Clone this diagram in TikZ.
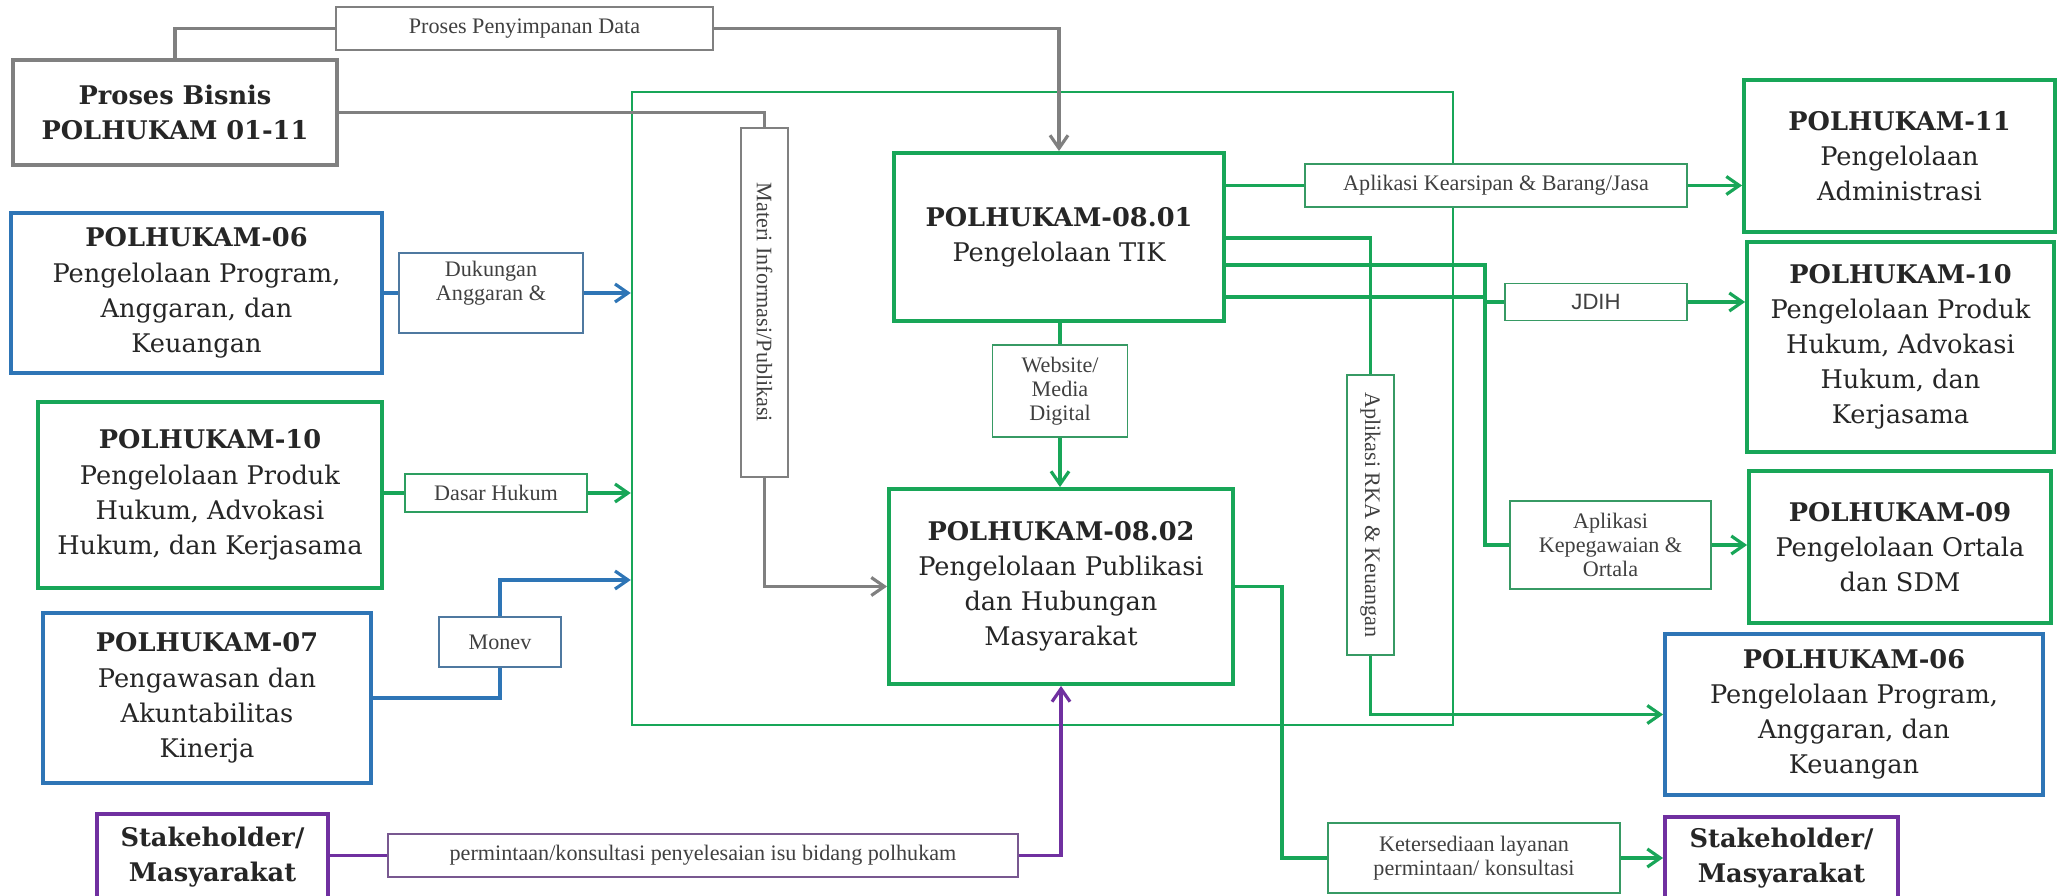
\documentclass[tikz,border=0pt]{standalone}
\usepackage{fontspec}
\setmainfont{DejaVu Serif}
\newfontfamily\labelfont{Liberation Serif}
\newfontfamily\jdihfont{Liberation Sans}
\usetikzlibrary{arrows.meta}
\definecolor{hijau}{RGB}{24,166,88}
\definecolor{biru}{RGB}{46,117,182}
\definecolor{ungu}{RGB}{112,48,160}
\definecolor{abu}{RGB}{128,128,128}
\colorlet{tinta}{black!85}
\tikzset{
  unit/.style={draw, line width=1.1pt, fill=white, align=center, inner sep=1pt, text=tinta, font=\fontsize{7.3}{10}\selectfont},
  ket/.style={draw, line width=0.5pt, fill=white, align=center, inner sep=1pt, text=black!75, font=\labelfont\fontsize{6.3}{6.8}\selectfont},
  garis/.style={line width=0.9pt},
  panah/.style={garis, -{Straight Barb[length=1.3mm, width=1.8mm]}}
}

\begin{document}
\begin{tikzpicture}
\useasboundingbox (0,0) rectangle (20.59,-8.96);
\node[draw=hijau, line width=0.7pt, minimum width=8.21cm, minimum height=6.33cm, inner sep=0pt] (inti) at (10.425,-4.085) {};

\node[unit, draw=abu, minimum width=3.24cm, minimum height=1.05cm] (bisnis) at (1.75,-1.125) {\textbf{Proses Bisnis}\\\textbf{POLHUKAM 01-11}};
\node[unit, draw=biru, minimum width=3.71cm, minimum height=1.60cm] (progL) at (1.965,-2.93) {\textbf{POLHUKAM-06}\\Pengelolaan Program,\\Anggaran, dan\\Keuangan};
\node[unit, draw=hijau, minimum width=3.44cm, minimum height=1.86cm] (hukumL) at (2.10,-4.95) {\textbf{POLHUKAM-10}\\Pengelolaan Produk\\Hukum, Advokasi\\Hukum, dan Kerjasama};
\node[unit, draw=biru, minimum width=3.28cm, minimum height=1.70cm] (awas) at (2.07,-6.98) {\textbf{POLHUKAM-07}\\Pengawasan dan\\Akuntabilitas\\Kinerja};
\node[unit, draw=ungu, minimum width=2.31cm, minimum height=0.86cm] (stakeL) at (2.125,-8.57) {\textbf{Stakeholder/}\\\textbf{Masyarakat}};

\node[unit, draw=hijau, minimum width=3.30cm, minimum height=1.68cm] (tik) at (10.59,-2.37) {\textbf{POLHUKAM-08.01}\\Pengelolaan TIK};
\node[unit, draw=hijau, minimum width=3.44cm, minimum height=1.95cm] (humas) at (10.61,-5.865) {\textbf{POLHUKAM-08.02}\\Pengelolaan Publikasi\\dan Hubungan\\Masyarakat};

\node[unit, draw=hijau, minimum width=3.11cm, minimum height=1.52cm] (adm) at (18.995,-1.56) {\textbf{POLHUKAM-11}\\Pengelolaan\\Administrasi};
\node[unit, draw=hijau, minimum width=3.07cm, minimum height=2.10cm] (hukumR) at (19.005,-3.47) {\textbf{POLHUKAM-10}\\Pengelolaan Produk\\Hukum, Advokasi\\Hukum, dan\\Kerjasama};
\node[unit, draw=hijau, minimum width=3.02cm, minimum height=1.52cm] (ortala) at (19.0,-5.47) {\textbf{POLHUKAM-09}\\Pengelolaan Ortala\\dan SDM};
\node[unit, draw=biru, minimum width=3.78cm, minimum height=1.61cm] (progR) at (18.54,-7.145) {\textbf{POLHUKAM-06}\\Pengelolaan Program,\\Anggaran, dan\\Keuangan};
\node[unit, draw=ungu, minimum width=2.33cm, minimum height=0.83cm] (stakeR) at (17.815,-8.585) {\textbf{Stakeholder/}\\\textbf{Masyarakat}};

\node[ket, draw=abu, minimum width=3.77cm, minimum height=0.43cm] (simpan) at (5.245,-0.285) {Proses Penyimpanan Data};
\node[ket, draw=abu, minimum width=0.47cm, minimum height=3.49cm] (materi) at (7.645,-3.025) {\rotatebox{-90}{Materi Informasi/Publikasi}};
\node[ket, draw=biru!60!gray, minimum width=1.84cm, minimum height=0.80cm] (dukung) at (4.91,-2.93) {Dukungan\\Anggaran \&\\\mbox{}};
\node[ket, draw=hijau!80!gray, minimum width=1.82cm, minimum height=0.38cm] (dasar) at (4.96,-4.93) {Dasar Hukum};
\node[ket, draw=biru!60!gray, minimum width=1.22cm, minimum height=0.50cm] (monev) at (5.0,-6.42) {Monev};
\node[ket, draw=ungu!50!gray, minimum width=6.30cm, minimum height=0.43cm] (minta) at (7.03,-8.555) {permintaan/konsultasi penyelesaian isu bidang polhukam};
\node[ket, draw=hijau!70!gray, minimum width=1.35cm, minimum height=0.92cm] (web) at (10.60,-3.91) {Website/\\Media\\Digital};
\node[ket, draw=hijau!70!gray, minimum width=3.82cm, minimum height=0.43cm] (arsip) at (14.96,-1.855) {Aplikasi Kearsipan \& Barang/Jasa};
\node[ket, draw=hijau!70!gray, minimum width=1.82cm, minimum height=0.37cm, font=\jdihfont\fontsize{6.3}{6.8}\selectfont] (jdih) at (15.96,-3.02) {JDIH};
\node[ket, draw=hijau!70!gray, minimum width=0.47cm, minimum height=2.80cm] (rka) at (13.705,-5.15) {\rotatebox{-90}{Aplikasi RKA \& Keuangan}};
\node[ket, draw=hijau!70!gray, minimum width=2.01cm, minimum height=0.88cm] (pegawai) at (16.105,-5.45) {Aplikasi\\Kepegawaian \&\\Ortala};
\node[ket, draw=hijau!70!gray, minimum width=2.92cm, minimum height=0.70cm] (layanan) at (14.74,-8.58) {Ketersediaan layanan\\permintaan/ konsultasi};

\coordinate (belok) at (14.85,-2.65);
\coordinate (turun) at (12.82,-5.865);

\draw[garis, abu] (bisnis.north) |- (simpan.west); \draw[panah, abu] (simpan.east) -| (tik.north);
\draw[garis, abu] (bisnis.east) -| (materi.north); \draw[panah, abu] (materi.south) |- (humas.west);

\draw[garis, biru] (progL.east) -- (dukung.west); \draw[panah, biru] (dukung.east) -- (inti.west |- dukung.east);
\draw[garis, hijau] (hukumL.east |- dasar.west) -- (dasar.west); \draw[panah, hijau] (dasar.east) -- (inti.west |- dasar.east);
\draw[garis, biru] (awas.east) -| (monev.south); \draw[panah, biru] (monev.north) |- (inti.west |- 0,-5.80);
\draw[garis, ungu] (stakeL.east |- minta.west) -- (minta.west); \draw[panah, ungu] (minta.east) -| (humas.south);

\draw[garis, hijau] (web.north |- tik.south) -- (web.north); \draw[panah, hijau] (web.south) -- (web.south |- humas.north);
\draw[garis, hijau] (tik.east |- arsip.west) -- (arsip.west); \draw[panah, hijau] (arsip.east) -- (adm.west |- arsip.east);
\draw[garis, hijau] (tik.east |- 0,-2.38) -| (rka.north); \draw[panah, hijau] (rka.south) |- (progR.west);
\draw[garis, hijau] (tik.east |- belok) -- (belok) |- (pegawai.west); \draw[panah, hijau] (pegawai.east) -- (ortala.west |- pegawai.east);
\draw[garis, hijau] (tik.east |- 0,-2.97) -| (belok |- jdih.west) -- (jdih.west); \draw[panah, hijau] (jdih.east) -- (hukumR.west |- jdih.east);
\draw[garis, hijau] (humas.east) -- (turun) |- (layanan.west); \draw[panah, hijau] (layanan.east) -- (stakeR.west |- layanan.east);
\end{tikzpicture}
\end{document}
